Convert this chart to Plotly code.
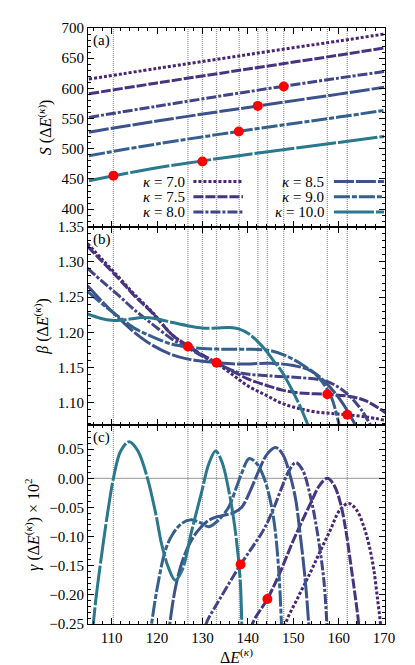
import plotly.graph_objects as go
from plotly.subplots import make_subplots

# ---- data ----
kappa_labels = ["7.0", "7.5", "8.0", "8.5", "9.0", "10.0"]
colors = ["#482475", "#463480", "#414487", "#3b528b", "#355f8d", "#2a788e"]
dashes = ["3px,2px", "10px,2px", "10px,2px,3px,2px", "20px,2px", "16px,2px,5px,2px", "40px,2px"]

# panel (a): S(dE)
a_x = [105, 120, 140, 160, 170]
S_70 = [615.5, 633, 656, 678.5, 690]
S_75 = [591, 609, 632, 655, 667]
S_80 = [552, 570.5, 594.5, 617, 628]
S_85 = [527.5, 546, 568.5, 590.5, 602]
S_90 = [488.5, 508, 531, 552.5, 563.5]
S_100 = [447, 468.5, 490.5, 510.5, 520.5]

# panel (b): beta(dE)
b_x_70 = [104.7, 108, 111.6, 115, 118.9, 123.4, 126.8, 130, 133.1, 136.6, 140, 143.9, 147.6, 151.2, 155, 160, 166, 170.3]
b_y_70 = [1.326, 1.303, 1.278, 1.254, 1.229, 1.196, 1.180, 1.167, 1.156, 1.140, 1.124, 1.111, 1.099, 1.092, 1.087, 1.084, 1.080, 1.075]
b_x_75 = [104.7, 108, 111.6, 115, 118.9, 123.4, 126.8, 130, 133.1, 136.6, 140, 143.9, 147.6, 151.2, 157.6, 162.4, 165.9, 170.3]
b_y_75 = [1.322, 1.300, 1.276, 1.252, 1.228, 1.196, 1.181, 1.168, 1.157, 1.145, 1.134, 1.125, 1.118, 1.114, 1.112, 1.109, 1.103, 1.086]
b_x_80 = [104.7, 108, 111.6, 115, 118.9, 123.4, 126.8, 130, 133.1, 138, 145.4, 151, 157.1, 160, 162.2, 165, 167.2]
b_y_80 = [1.291, 1.272, 1.252, 1.232, 1.212, 1.190, 1.178, 1.166, 1.156, 1.143, 1.138, 1.136, 1.131, 1.122, 1.111, 1.090, 1.066]
b_x_85 = [104.7, 108, 111.6, 115, 118.9, 123.4, 126.8, 130, 133.1, 138, 145, 150, 154, 157.1, 160.7, 163.9]
b_y_85 = [1.266, 1.243, 1.220, 1.200, 1.182, 1.168, 1.162, 1.159, 1.157, 1.155, 1.156, 1.153, 1.145, 1.129, 1.101, 1.066]
b_x_90 = [104.7, 108, 111.6, 115, 118.9, 123.4, 126.8, 130, 135, 140, 145, 149, 152.5, 155, 157, 158.5, 160.2]
b_y_90 = [1.258, 1.240, 1.222, 1.206, 1.194, 1.183, 1.179, 1.177, 1.176, 1.176, 1.174, 1.165, 1.152, 1.140, 1.124, 1.106, 1.066]
b_x_100 = [104.7, 107.5, 110, 113, 117, 120, 123.4, 127, 130, 133, 136, 138, 140.2, 142, 143.9, 145.5, 147.6, 149.5, 151.5, 153.4]
b_y_100 = [1.226, 1.220, 1.217, 1.218, 1.221, 1.219, 1.214, 1.209, 1.206, 1.206, 1.207, 1.205, 1.198, 1.188, 1.175, 1.161, 1.143, 1.121, 1.095, 1.066]

# panel (c): gamma(dE) x 10^2
c_x_70 = [147.9, 148.3, 151, 153.8, 156, 158.2, 160.2, 162.2, 164, 165.5, 166.7, 167.7, 168.6, 169.2, 169.4]
c_y_70 = [-0.28, -0.25, -0.205, -0.161, -0.124, -0.088, -0.055, -0.043, -0.055, -0.082, -0.115, -0.155, -0.21, -0.25, -0.28]
c_x_75 = [140.6, 141.0, 144.3, 147, 150.1, 153.8, 155.8, 157.5, 159, 160.4, 161.6, 162.6, 163.6, 164.4, 164.6]
c_y_75 = [-0.28, -0.25, -0.207, -0.163, -0.105, -0.043, -0.012, 0.0, -0.012, -0.043, -0.09, -0.144, -0.2, -0.25, -0.28]
c_x_80 = [130.3, 130.8, 133, 135.5, 138.4, 141, 143.5, 145.5, 147.2, 149, 150.5, 152, 153.8, 155.2, 156.7, 157.4, 157.6]
c_y_80 = [-0.28, -0.25, -0.218, -0.185, -0.148, -0.118, -0.088, -0.055, -0.021, 0.012, 0.027, 0.015, -0.032, -0.088, -0.172, -0.25, -0.28]
c_x_85 = [122.3, 122.8, 124, 125.5, 127.3, 129.2, 131, 132.8, 135, 136.9, 138.7, 140.5, 142.4, 144.3, 146.1, 147.7, 149.3, 150.5, 151.4, 152.6, 153.4, 153.6]
c_y_85 = [-0.28, -0.25, -0.19, -0.144, -0.11, -0.088, -0.074, -0.067, -0.063, -0.059, -0.049, -0.022, 0.013, 0.042, 0.053, 0.041, 0.005, -0.035, -0.088, -0.172, -0.25, -0.28]
c_x_90 = [118.3, 118.8, 120, 121.9, 123.5, 125.5, 127.5, 129.5, 131.4, 133.5, 135.8, 137.5, 138.7, 140.3, 142, 143.6, 145, 146.0, 146.9, 147.4, 147.6]
c_y_90 = [-0.28, -0.25, -0.19, -0.122, -0.095, -0.077, -0.071, -0.076, -0.083, -0.072, -0.049, -0.015, 0.010, 0.034, 0.025, 0.0, -0.04, -0.088, -0.17, -0.25, -0.28]
c_x_100 = [105.5, 106.5, 108, 109.3, 110.4, 112, 113.9, 115.8, 117.9, 119.7, 121.1, 122.6, 124, 125.5, 127.7, 129.9, 131.4, 132.9, 134.3, 135.8, 137.2, 138.3, 138.7]
c_y_100 = [-0.29, -0.21, -0.12, -0.05, 0.0, 0.047, 0.063, 0.047, 0.0, -0.06, -0.116, -0.155, -0.175, -0.158, -0.088, -0.021, 0.025, 0.047, 0.028, -0.021, -0.088, -0.172, -0.27]

# red markers
dots_a_x = [110.4, 130.0, 138.0, 142.2, 147.9]
dots_a_y = [455.5, 479, 528.6, 571, 603]
dots_b_x = [126.8, 133.1, 157.5, 161.9]
dots_b_y = [1.180, 1.157, 1.112, 1.083]
dots_c_x = [138.4, 144.3]
dots_c_y = [-0.148, -0.207]

# vertical reference lines
vlines = [110.4, 126.8, 130.0, 133.1, 138.1, 142.2, 144.3, 147.9, 157.5, 161.9]

FONT = "Liberation Serif"

fig = make_subplots(rows=3, cols=1, shared_xaxes=True, vertical_spacing=0)

a_series = [S_70, S_75, S_80, S_85, S_90, S_100]
b_series = [(b_x_70, b_y_70), (b_x_75, b_y_75), (b_x_80, b_y_80),
            (b_x_85, b_y_85), (b_x_90, b_y_90), (b_x_100, b_y_100)]
c_series = [(c_x_70, c_y_70), (c_x_75, c_y_75), (c_x_80, c_y_80),
            (c_x_85, c_y_85), (c_x_90, c_y_90), (c_x_100, c_y_100)]

for i in range(6):
    line = dict(color=colors[i], width=3, dash=dashes[i], shape="spline", smoothing=1)
    fig.add_trace(go.Scatter(x=a_x, y=a_series[i], mode="lines", line=line,
                             showlegend=False, hoverinfo="skip"), row=1, col=1)
    fig.add_trace(go.Scatter(x=b_series[i][0], y=b_series[i][1], mode="lines", line=line,
                             showlegend=False, hoverinfo="skip"), row=2, col=1)
    fig.add_trace(go.Scatter(x=c_series[i][0], y=c_series[i][1], mode="lines", line=line,
                             showlegend=False, hoverinfo="skip"), row=3, col=1)

for r, (dx, dy) in enumerate([(dots_a_x, dots_a_y), (dots_b_x, dots_b_y), (dots_c_x, dots_c_y)], start=1):
    fig.add_trace(go.Scatter(x=dx, y=dy, mode="markers",
                             marker=dict(color="#ff0000", size=10),
                             showlegend=False, hoverinfo="skip"), row=r, col=1)

# dotted vertical lines through all panels
for v in vlines:
    fig.add_shape(type="line", xref="x", yref="paper", x0=v, x1=v, y0=0, y1=1,
                  line=dict(color="#999999", width=1.3, dash="1px,1px"), layer="below")

# zero line in (c)
fig.add_shape(type="line", xref="x3 domain", yref="y3", x0=0, x1=1, y0=0, y1=0,
              line=dict(color="#aaaaaa", width=1.3), layer="below")

# hand-made two-column legend in (a)
leg_rows = [0.227, 0.150, 0.074]
for i, lab in enumerate(kappa_labels):
    col, row = divmod(i, 3)
    ty = leg_rows[row]
    tx = 0.332 if col == 0 else 0.800
    lx0, lx1 = (0.355, 0.522) if col == 0 else (0.828, 0.997)
    fig.add_annotation(xref="x domain", yref="y domain", x=tx, y=ty,
                       text="<i>κ</i> = " + lab, showarrow=False,
                       xanchor="right", yanchor="middle",
                       font=dict(family=FONT, size=15, color="black"))
    fig.add_shape(type="line", xref="x domain", yref="y domain",
                  x0=lx0, x1=lx1, y0=ty, y1=ty,
                  line=dict(color=colors[i], width=3, dash=dashes[i]))

# panel letters
for r, lab in zip([1, 2, 3], ["(a)", "(b)", "(c)"]):
    xr = "x domain" if r == 1 else "x%d domain" % r
    yr = "y domain" if r == 1 else "y%d domain" % r
    fig.add_annotation(xref=xr, yref=yr, x=0.01, y=0.99, text=lab, showarrow=False,
                       xanchor="left", yanchor="top",
                       font=dict(family=FONT, size=15, color="black"))

axis_style = dict(showline=True, linecolor="black", linewidth=1.2, mirror="allticks",
                  ticks="inside", ticklen=6, tickwidth=1, tickcolor="black",
                  showgrid=False, zeroline=False,
                  tickfont=dict(family=FONT, size=15, color="black"))

fig.update_xaxes(range=[104.8, 170.2], dtick=10, tick0=110,
                 minor=dict(ticks="inside", ticklen=3, dtick=2, tickcolor="black"),
                 **axis_style)
fig.update_xaxes(title=dict(text="Δ<i>E</i><sup>(<i>κ</i>)</sup>", standoff=4,
                            font=dict(family=FONT, size=16, color="black")), row=3, col=1)

fig.update_yaxes(range=[371, 700], dtick=50, tick0=400,
                 minor=dict(ticks="inside", ticklen=3, dtick=10, tickcolor="black"),
                 title=dict(text="<i>S</i> (Δ<i>E</i><sup>(<i>κ</i>)</sup>)",
                            font=dict(family=FONT, size=16, color="black"), standoff=5),
                 row=1, col=1, **axis_style)
fig.update_yaxes(range=[1.068, 1.35], dtick=0.05, tick0=1.1, tickformat=".2f",
                 minor=dict(ticks="inside", ticklen=3, dtick=0.01, tickcolor="black"),
                 title=dict(text="<i>β</i> (Δ<i>E</i><sup>(<i>κ</i>)</sup>)",
                            font=dict(family=FONT, size=16, color="black"), standoff=5),
                 row=2, col=1, **axis_style)
fig.update_yaxes(range=[-0.25, 0.091], dtick=0.05, tick0=0, tickformat=".2f",
                 minor=dict(ticks="inside", ticklen=3, dtick=0.01, tickcolor="black"),
                 title=dict(text="<i>γ</i> (Δ<i>E</i><sup>(<i>κ</i>)</sup>) × 10<sup>2</sup>",
                            font=dict(family=FONT, size=16, color="black"), standoff=5),
                 row=3, col=1, **axis_style)

fig.update_layout(width=415, height=665,
                  margin=dict(l=80, r=38, t=13, b=43),
                  plot_bgcolor="white", paper_bgcolor="white",
                  showlegend=False)

fig.write_html("out.html")
